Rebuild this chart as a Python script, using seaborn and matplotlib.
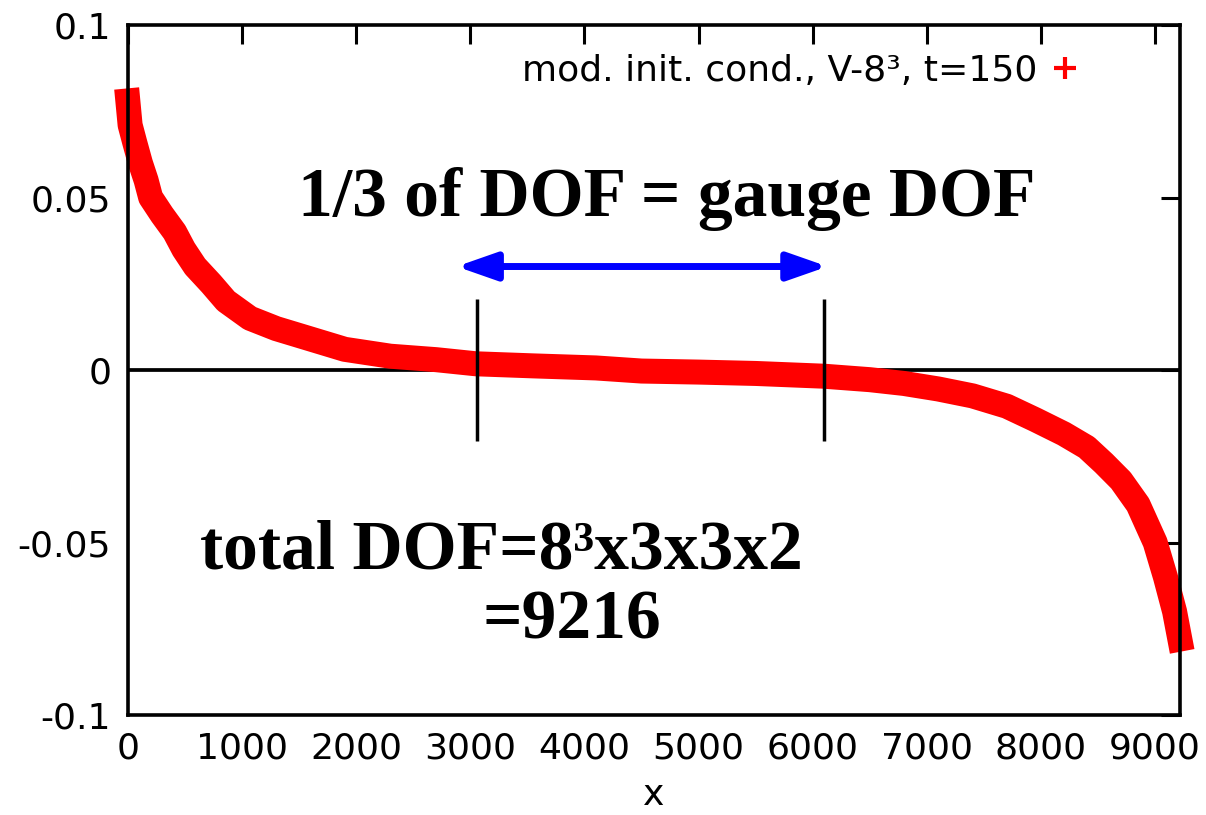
import matplotlib
matplotlib.use("Agg")
import matplotlib.pyplot as plt
import seaborn as sns
import pandas as pd
from matplotlib.lines import Line2D

# ---- data ----
x_vals = [0, 20, 60, 110, 160, 200, 300, 410, 490, 590, 730, 860, 1070, 1300,
          1500, 1900, 2300, 2700, 3050, 3550, 4100, 4500, 5000, 5500, 6100,
          6500, 6800, 7100, 7400, 7700, 7950, 8200, 8400, 8550, 8700, 8850,
          9000, 9090, 9170, 9216]
y_vals = [0.078, 0.071, 0.066, 0.060, 0.055, 0.050, 0.045, 0.040, 0.035, 0.030,
          0.025, 0.020, 0.015, 0.012, 0.010, 0.006, 0.004, 0.003, 0.0018, 0.0012,
          0.0006, -0.0003, -0.0006, -0.001, -0.0018, -0.0028, -0.0039, -0.0055,
          -0.0075, -0.0105, -0.0144, -0.0185, -0.0224, -0.027, -0.032, -0.039,
          -0.050, -0.060, -0.070, -0.078]
series_label = "mod. init. cond., V-8³, t=150"
x_ticks = [0, 1000, 2000, 3000, 4000, 5000, 6000, 7000, 8000, 9000]
x_ticklabels = ["0", "1000", "2000", "3000", "4000", "5000", "6000", "7000", "8000", "9000"]
y_ticks = [-0.1, -0.05, 0, 0.05, 0.1]
y_ticklabels = ["-0.1", "-0.05", "0", "0.05", "0.1"]
gauge_bounds = [3060, 6100]
arrow_span = [2880, 6130]

sns.set_theme(style="white")
plt.rcParams["font.family"] = ["DejaVu Sans"]
plt.rcParams["text.color"] = "black"
plt.rcParams["axes.labelcolor"] = "black"
plt.rcParams["xtick.color"] = "black"
plt.rcParams["ytick.color"] = "black"

df = pd.DataFrame({"x": x_vals, "y": y_vals})

fig = plt.figure(figsize=(12.06, 8.15), dpi=100)
ax = fig.add_axes([0.106, 0.1227, 0.8723, 0.8466])

ax.axhline(0, color="black", lw=2.7, zorder=1)

sns.lineplot(data=df, x="x", y="y", ax=ax, color="red", linewidth=18,
             sort=False, estimator=None, legend=False, zorder=2)
line = ax.lines[-1]
line.set_solid_capstyle("projecting")
line.set_solid_joinstyle("round")
line.set_clip_on(False)

ax.vlines(gauge_bounds, -0.0205, 0.0205, color="black", lw=2.5, zorder=3)

ax.annotate("", xy=(arrow_span[0], 0.030), xytext=(arrow_span[1], 0.030),
            arrowprops=dict(arrowstyle="<|-|>,head_length=1.2,head_width=0.42",
                            color="blue", lw=5, mutation_scale=20,
                            shrinkA=0, shrinkB=0), zorder=4)

serif = ["Liberation Serif", "DejaVu Serif"]
ax.text(4720, 0.0447, "1/3 of DOF = gauge DOF", ha="center", va="baseline",
        fontsize=50, fontweight="bold", family=serif, color="black", zorder=5)
ax.text(630, -0.0576, "total DOF=8³x3x3x2", ha="left", va="baseline",
        fontsize=50, fontweight="bold", family=serif, color="black", zorder=5)
ax.text(3890, -0.0777, "=9216", ha="center", va="baseline",
        fontsize=50, fontweight="bold", family=serif, color="black", zorder=5)

ax.set_xlim(0, 9216)
ax.set_ylim(-0.1, 0.1)
ax.set_xticks(x_ticks)
ax.set_xticklabels(x_ticklabels)
ax.set_yticks(y_ticks)
ax.set_yticklabels(y_ticklabels)
ax.tick_params(direction="in", length=14, width=2.2, labelsize=26,
               top=True, right=True, colors="black")
ax.tick_params(axis="x", pad=12)
ax.tick_params(axis="y", pad=12)
for s in ax.spines.values():
    s.set_visible(True)
    s.set_color("black")
    s.set_linewidth(2.6)
ax.set_xlabel("x", fontsize=26, labelpad=9, color="black")
ax.set_ylabel("")

handle = Line2D([], [], color="red", marker="+", linestyle="none",
                markersize=16, markeredgewidth=3)
leg = ax.legend([handle], [series_label], loc="upper right", markerfirst=False,
                frameon=False, fontsize=26, bbox_to_anchor=(0.905, 0.958),
                handlelength=0.8, handletextpad=0.37, borderaxespad=0,
                borderpad=0)
for t in leg.get_texts():
    t.set_color("black")

fig.savefig("out.png", dpi=100)
